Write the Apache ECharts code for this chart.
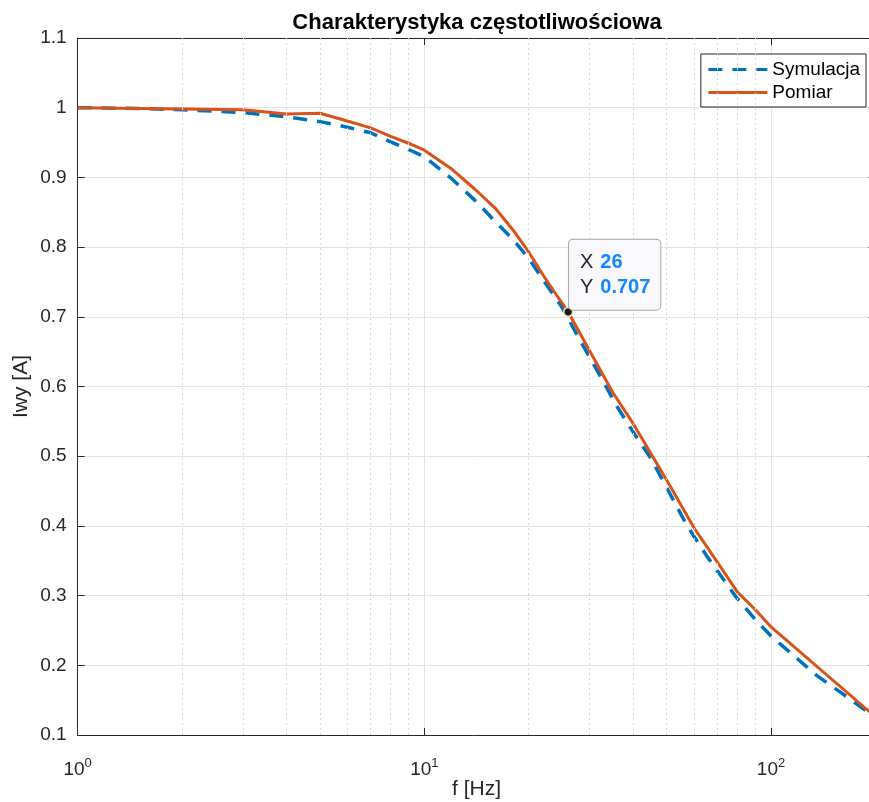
<!DOCTYPE html>
<html>
<head>
<meta charset="utf-8">
<script src="https://cdn.jsdelivr.net/npm/echarts@6/dist/echarts.min.js"></script>
<style>
html,body{margin:0;padding:0;background:#fff;}
#chart{width:869px;height:802px;}
</style>
</head>
<body>
<div id="chart"></div>
<script>
// ---- data ----
const titleText = 'Charakterystyka częstotliwościowa';
const xName = 'f [Hz]';
const yName = 'Iwy [A]';
const seriesNames = ['Symulacja', 'Pomiar'];

const freqSym = [1, 1.5, 2, 2.5, 3, 4, 5, 6, 7, 8, 9, 10, 12, 14, 16, 18, 20, 22, 25, 28, 32, 36, 40, 45, 50, 57, 65, 79, 90, 100, 120, 135, 160, 190, 200];
const valSym  = [1.000, 0.999, 0.997, 0.995, 0.993, 0.987, 0.980, 0.972, 0.964, 0.951, 0.940, 0.930, 0.898, 0.867, 0.837, 0.811, 0.784, 0.753, 0.713, 0.668, 0.617, 0.571, 0.535, 0.497, 0.455, 0.402, 0.358, 0.299, 0.266, 0.242, 0.208, 0.186, 0.160, 0.133, 0.126];

const freqPom = [1, 2, 3, 4, 5, 6, 7, 8, 9, 10, 12, 14, 16, 18, 20, 22, 24, 26, 30, 35, 40, 50, 60, 70, 80, 90, 100, 200];
const valPom  = [1.000, 0.998, 0.997, 0.991, 0.992, 0.981, 0.971, 0.959, 0.949, 0.939, 0.912, 0.883, 0.856, 0.825, 0.793, 0.760, 0.732, 0.707, 0.651, 0.591, 0.547, 0.466, 0.397, 0.348, 0.305, 0.280, 0.255, 0.126];

const tipX = 26;
const tipY = 0.707;

const xMin = 1, xMax = 200;
const yMin = 0.1, yMax = 1.1, yStep = 0.1;
const minorX = [2, 3, 4, 5, 6, 7, 8, 9, 20, 30, 40, 50, 60, 70, 80, 90];

// ---- styling ----
const FONT = 'Liberation Sans, Arial, Helvetica, sans-serif';
const AX = '#262626';
const BLUE = '#0072BD';
const ORANGE = '#D95319';

const chart = echarts.init(document.getElementById('chart'), null, {renderer: 'canvas'});

function zip(xs, ys) { return xs.map((x, i) => [x, ys[i]]); }
function isPow10(v) { const e = Math.log10(v); return Math.abs(e - Math.round(e)) < 1e-6; }

const option = {
  animation: false,
  backgroundColor: '#ffffff',
  textStyle: {fontFamily: FONT},
  title: {
    text: titleText,
    left: 472, top: 7, textAlign: 'center',
    textStyle: {fontFamily: FONT, fontSize: 22, fontWeight: 'bold', color: '#000'}
  },
  legend: {
    orient: 'vertical',
    right: 3, top: 54,
    itemWidth: 59, itemHeight: 14, itemGap: 4,
    padding: [6, 6, 5, 6],
    borderColor: '#262626', borderWidth: 1,
    backgroundColor: '#fff',
    itemStyle: {opacity: 0},
    lineStyle: {width: 3},
    textStyle: {fontFamily: FONT, fontSize: 19, color: '#000', lineHeight: 19},
    data: seriesNames
  },
  grid: {left: 77.6, width: 797.8, top: 38, height: 697, containLabel: false, outerBoundsMode: 'none'},
  xAxis: [{
    type: 'log', logBase: 10, min: xMin, max: xMax, position: 'bottom',
    name: xName, nameLocation: 'middle', nameGap: 44, nameMoveOverlap: false,
    nameTextStyle: {fontFamily: FONT, fontSize: 21, color: AX},
    axisLine: {show: true, lineStyle: {color: AX, width: 1}},
    axisTick: {show: true, inside: true, length: 7, lineStyle: {color: AX}},
    splitLine: {show: true, lineStyle: {color: '#e3e3e3', width: 1}},
    axisLabel: {
      margin: 22,
      formatter: function (v) { return isPow10(v) ? '{b|10}{s|' + Math.round(Math.log10(v)) + '}' : ''; },
      rich: {
        b: {fontFamily: FONT, fontSize: 19, color: AX},
        s: {fontFamily: FONT, fontSize: 13, color: AX, padding: [0, 0, 12, 0]}
      }
    }
  }, {
    type: 'log', logBase: 10, min: xMin, max: xMax, position: 'top',
    axisLine: {show: true, lineStyle: {color: AX, width: 1}},
    axisTick: {show: true, inside: true, length: 7, lineStyle: {color: AX}},
    axisLabel: {show: false}, splitLine: {show: false}
  }],
  yAxis: [{
    type: 'value', min: yMin, max: yMax, interval: yStep, position: 'left',
    name: yName, nameLocation: 'middle', nameGap: 46, nameMoveOverlap: false,
    nameTextStyle: {fontFamily: FONT, fontSize: 21, color: AX},
    axisLine: {show: true, lineStyle: {color: AX, width: 1}},
    axisTick: {show: true, inside: true, length: 7, lineStyle: {color: AX}},
    splitLine: {show: true, lineStyle: {color: '#e3e3e3', width: 1}},
    axisLabel: {
      margin: 11, fontFamily: FONT, fontSize: 19, color: AX,
      formatter: function (v) { return String(parseFloat(v.toFixed(2))); }
    }
  }, {
    type: 'value', min: yMin, max: yMax, interval: yStep, position: 'right',
    axisLine: {show: true, lineStyle: {color: AX, width: 1}},
    axisTick: {show: true, inside: true, length: 7, lineStyle: {color: AX}},
    axisLabel: {show: false}, splitLine: {show: false}
  }],
  series: [{
    name: '__minorgrid', type: 'line', data: [], z: 1, silent: true,
    markLine: {
      silent: true, symbol: ['none', 'none'], label: {show: false},
      lineStyle: {color: '#d6d6d6', width: 1, type: [2, 3]},
      data: minorX.map(v => ({xAxis: v}))
    }
  }, {
    name: seriesNames[0], type: 'line', data: zip(freqSym, valSym),
    showSymbol: false, symbol: 'none', z: 3,
    lineStyle: {color: BLUE, width: 3.5, type: [14, 10], cap: 'butt'},
    itemStyle: {color: BLUE}
  }, {
    name: seriesNames[1], type: 'line', data: zip(freqPom, valPom),
    showSymbol: false, symbol: 'none', z: 4,
    lineStyle: {color: ORANGE, width: 3},
    itemStyle: {color: ORANGE},
    markPoint: {
      silent: true,
      symbol: 'circle', symbolSize: 9,
      itemStyle: {color: '#1a1a1a', borderColor: '#f3efc4', borderWidth: 1.5},
      label: {
        show: true, position: [6, -67], align: 'left', verticalAlign: 'top',
        backgroundColor: '#f8f8fd', borderColor: '#a6a6a6', borderWidth: 1, borderRadius: 4,
        padding: [10, 10, 10, 11],
        formatter: function () { return '{a|X}{v|' + tipX + '}\n{a|Y}{v|' + tipY + '}'; },
        rich: {
          a: {fontFamily: FONT, fontSize: 20, color: '#262626', lineHeight: 25},
          v: {fontFamily: FONT, fontSize: 20, fontWeight: 'bold', color: '#1287ff', lineHeight: 25, padding: [0, 0, 0, 7]}
        }
      },
      data: [{coord: [tipX, tipY]}]
    }
  }]
};

chart.setOption(option);
</script>
</body>
</html>
